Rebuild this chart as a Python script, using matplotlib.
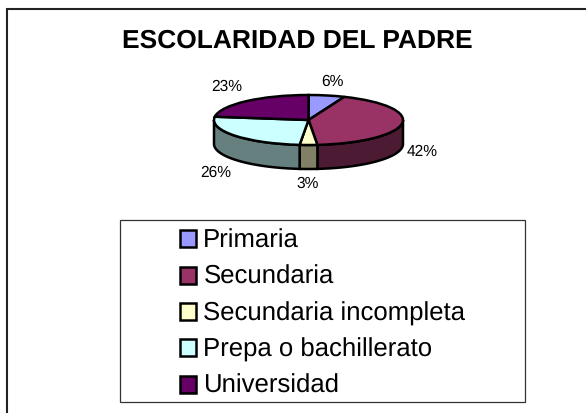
import numpy as np
import matplotlib
matplotlib.use('Agg')
import matplotlib.pyplot as plt
from matplotlib.patches import Patch, Rectangle

plt.rcParams['font.family'] = ['Liberation Sans', 'DejaVu Sans']
plt.rcParams['text.hinting'] = 'no_hinting'

# data (labels show these rounded)
categorias = ['Primaria', 'Secundaria', 'Secundaria incompleta', 'Prepa o bachillerato', 'Universidad']
valores = [6.2, 42.3, 3.0, 25.6, 22.9]
colores = ['#9999FF', '#993366', '#FFFFCC', '#CCFFFF', '#660066']
colores_lado = ['#4D4D80', '#4D1A33', '#808066', '#668080', '#330033']
titulo = 'ESCOLARIDAD DEL PADRE'

W, H = 586, 413
fig = plt.figure(figsize=(W / 100, H / 100), dpi=100)

# full figure axes in pixels, for the frames and the title
bg = fig.add_axes([0, 0, 1, 1])
bg.set_xlim(0, W)
bg.set_ylim(H, 0)
bg.axis('off')
bg.plot([6.5, 6.5], [9, H], color='#222222', lw=1.5, solid_capstyle='butt')
bg.plot([6, W], [9, 9], color='#222222', lw=1.5, solid_capstyle='butt')
bg.add_patch(Rectangle((119.5, 220), 405.5, 181.5, fc='white', ec='#333333', lw=0.9))
bg.text(297.5, 41.5, titulo, fontsize=19, fontweight='bold', ha='center', va='center')

# pie: top face with ax.pie, squashed, sides drawn under it
a, b, prof = 94.5, 25.0, 24.0
ax = fig.add_axes([(308.5 - a) / W, 1 - (120 + b + prof) / H, 2 * a / W, (2 * b + prof) / H])
ax.patch.set_alpha(0)
ax.pie(valores, colors=colores, startangle=90, counterclock=False, radius=1,
       wedgeprops=dict(edgecolor='black', linewidth=1.8, zorder=3))
ax.set_aspect('auto')
ax.set_xlim(-1, 1)
ax.set_ylim(-1 - prof / b, 1)
ax.axis('off')

d = prof / b
fin = np.cumsum(valores) * 3.6
ini = fin - np.array(valores) * 3.6
for t0, t1, c in zip(ini, fin, colores_lado):
    t0, t1 = max(t0, 90), min(t1, 270)
    if t1 <= t0:
        continue
    t = np.radians(np.linspace(t0, t1, 60))
    x, y = np.sin(t), np.cos(t)
    ax.fill(np.r_[x, x[::-1]], np.r_[y, y[::-1] - d], fc=c, ec='black', lw=1.8, zorder=2, clip_on=False)

# percentage labels
etiquetas = [f'{v:.0f}%' for v in valores]
pos_etiquetas = [(332, 82), (422, 152), (308, 184), (216, 173), (227, 87)]
for txt, (px, py) in zip(etiquetas, pos_etiquetas):
    bg.text(px, py, txt, fontsize=11.2, ha='center', va='center', zorder=5)

# legend
handles = [Patch(fc=c, ec='black', lw=1.8) for c in colores]
fig.legend(handles, categorias, frameon=False, fontsize=18.5, loc='upper left',
           bbox_to_anchor=(180 / W, 1 - 229 / H), borderaxespad=0, borderpad=0,
           handlelength=0.64, handleheight=0.64, handletextpad=0.27, labelspacing=0.47)

fig.savefig('out.png', dpi=100)
